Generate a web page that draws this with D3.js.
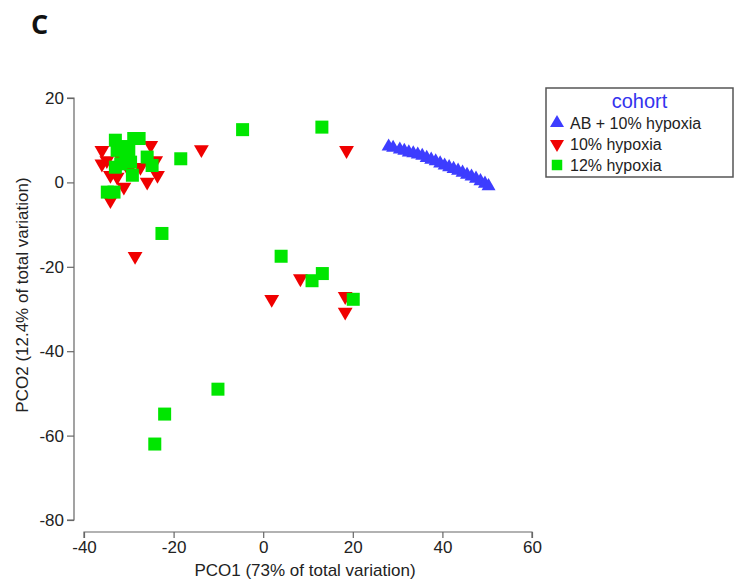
<!DOCTYPE html>
<html>
<head>
<meta charset="utf-8">
<script src="https://cdn.jsdelivr.net/npm/d3@7"></script>
<style>
  body { margin: 0; background: #fff; }
  svg text { font-family: "Liberation Sans", Arial, sans-serif; }
</style>
</head>
<body>
<div class="chart"></div>
<script>
// cohort names and colours
var cohorts = ["AB + 10% hypoxia", "10% hypoxia", "12% hypoxia"];
var cohortColors = ["#3d3dff", "#f00000", "#00e600"];

// AB + 10% hypoxia (PCO1, PCO2)
var abX = [28, 29, 30.5, 31.5, 32.5, 33.5, 34.5, 35.5, 36.5, 37.5, 38.5, 39.5, 40.5, 41.5, 42.5, 43.5, 44.5, 45.5, 46.5, 47.5, 48.5, 49.5, 50.3];
var abY = [8.5, 8.2, 7.8, 7.5, 7.1, 6.9, 6.6, 6.3, 5.8, 5.4, 5.0, 4.5, 4.0, 3.6, 3.2, 2.8, 2.3, 1.8, 1.4, 0.9, 0.3, -0.3, -0.9];

// 10% hypoxia
var h10X = [-36.0, -36.0, -34.9, -34.1, -32.6, -31.1, -25.9, -27.4, -24.0, -25.1, -23.6, -34.1, -32.0, -30.0, -13.8, 18.6, -28.6, 8.3, 1.9, 18.3, 18.3];
var h10Y = [4.4, 7.6, 5.2, 1.7, 1.3, -1.1, 0.1, 3.6, 5.2, 8.8, 1.7, -4.3, 6.0, 3.0, 7.8, 7.6, -17.5, -22.8, -27.7, -27.0, -30.7];

// 12% hypoxia
var h12X = [-33.0, -28.9, -32.6, -30.7, -31.8, -33.0, -29.2, -25.9, -24.8, -34.8, -33.3, -29.6, -27.7, -31.5, -30.0, -4.6, 13.1, -18.4, -22.6, 4.0, 13.2, 10.9, 20.1, -10.1, -22.0, -24.2];
var h12Y = [10.0, 10.4, 7.6, 6.4, 4.4, 3.6, 1.7, 6.0, 4.0, -2.3, -2.3, 4.8, 10.4, 8.5, 7.8, 12.5, 13.1, 5.6, -12.1, -17.5, -21.6, -23.3, -27.7, -49.0, -54.9, -62.0];

var xTicks = [-40, -20, 0, 20, 40, 60];
var yTicks = [20, 0, -20, -40, -60, -80];

var width = 741, height = 584;

var svg = d3.select('.chart')
    .append('svg')
    .attr('width', width)
    .attr('height', height);

var xscale = d3.scaleLinear().domain([-40, 60]).range([84, 532]);
var yscale = d3.scaleLinear().domain([20, -80]).range([98, 520]);

// axes, detached like the original (plain hyphen for negatives)
var fmt = function(d) { return String(d); };
var xaxis = d3.axisBottom(xscale).tickValues(xTicks).tickFormat(fmt).tickSize(6).tickPadding(3);
var yaxis = d3.axisLeft(yscale).tickValues(yTicks).tickFormat(fmt).tickSize(7).tickPadding(3);

var gx = svg.append('g')
    .attr('transform', 'translate(0,532)')
    .call(xaxis);
var gy = svg.append('g')
    .attr('transform', 'translate(74,0)')
    .call(yaxis);

[gx, gy].forEach(function(g) {
    g.selectAll('path, line').attr('stroke', '#666').attr('stroke-width', 1.2);
    g.selectAll('text')
        .attr('fill', '#222')
        .style('font-size', '17px')
        .style('font-family', '"Liberation Sans", Arial, sans-serif');
});
gx.select('.domain').attr('d', 'M84,6V0H532V6');
gy.select('.domain').attr('d', 'M-7,98H0V520H-7');

// axis titles
svg.append('text')
    .attr('x', 305)
    .attr('y', 576)
    .attr('text-anchor', 'middle')
    .style('font-size', '17px')
    .attr('fill', '#222')
    .text('PCO1 (73% of total variation)');

svg.append('text')
    .attr('transform', 'translate(28,295) rotate(-90)')
    .attr('text-anchor', 'middle')
    .style('font-size', '17px')
    .attr('fill', '#222')
    .text('PCO2 (12.4% of total variation)');

// panel letter
svg.append('text')
    .attr('x', 31)
    .attr('y', 34)
    .style('font-family', '"Open Sans", sans-serif')
    .style('font-weight', 'bold')
    .style('font-size', '27px')
    .attr('fill', '#111')
    .text('C');

var triUp = d3.symbol().type(d3.symbolTriangle).size(85);
var triDown = d3.symbol().type(d3.symbolTriangle).size(95);

// AB + 10% hypoxia
svg.append('g').selectAll('path')
    .data(d3.zip(abX, abY))
    .enter()
    .append('path')
    .attr('d', triUp)
    .attr('transform', function(d) {
        return 'translate(' + xscale(d[0]) + ',' + yscale(d[1]) + ')';
    })
    .attr('fill', cohortColors[0]);

// 10% hypoxia
svg.append('g').selectAll('path')
    .data(d3.zip(h10X, h10Y))
    .enter()
    .append('path')
    .attr('d', triDown)
    .attr('transform', function(d) {
        return 'translate(' + xscale(d[0]) + ',' + yscale(d[1]) + ') rotate(180)';
    })
    .attr('fill', cohortColors[1]);

// 12% hypoxia
var sq = 13;
svg.append('g').selectAll('rect')
    .data(d3.zip(h12X, h12Y))
    .enter()
    .append('rect')
    .attr('x', function(d) { return xscale(d[0]) - sq / 2; })
    .attr('y', function(d) { return yscale(d[1]) - sq / 2; })
    .attr('width', sq)
    .attr('height', sq)
    .attr('fill', cohortColors[2]);

// legend
var legend = svg.append('g').attr('transform', 'translate(546,88)');
legend.append('rect')
    .attr('width', 187)
    .attr('height', 89)
    .attr('fill', '#fff')
    .attr('stroke', '#555')
    .attr('stroke-width', 1.5);
legend.append('text')
    .attr('x', 93.5)
    .attr('y', 20)
    .attr('text-anchor', 'middle')
    .style('font-size', '20px')
    .attr('fill', '#3333ee')
    .text('cohort');

var rows = legend.selectAll('.row')
    .data(cohorts)
    .enter()
    .append('g')
    .attr('class', 'row')
    .attr('transform', function(d, i) { return 'translate(11,' + (35 + i * 21) + ')'; });

rows.append('path')
    .attr('d', function(d, i) {
        if (i == 2) return d3.symbol().type(d3.symbolSquare).size(110)();
        return triUp();
    })
    .attr('transform', function(d, i) { return i == 1 ? 'rotate(180)' : null; })
    .attr('fill', function(d, i) { return cohortColors[i]; });

rows.append('text')
    .attr('x', 13)
    .attr('y', 6)
    .style('font-size', '16px')
    .attr('fill', '#222')
    .text(function(d) { return d; });
</script>
</body>
</html>
